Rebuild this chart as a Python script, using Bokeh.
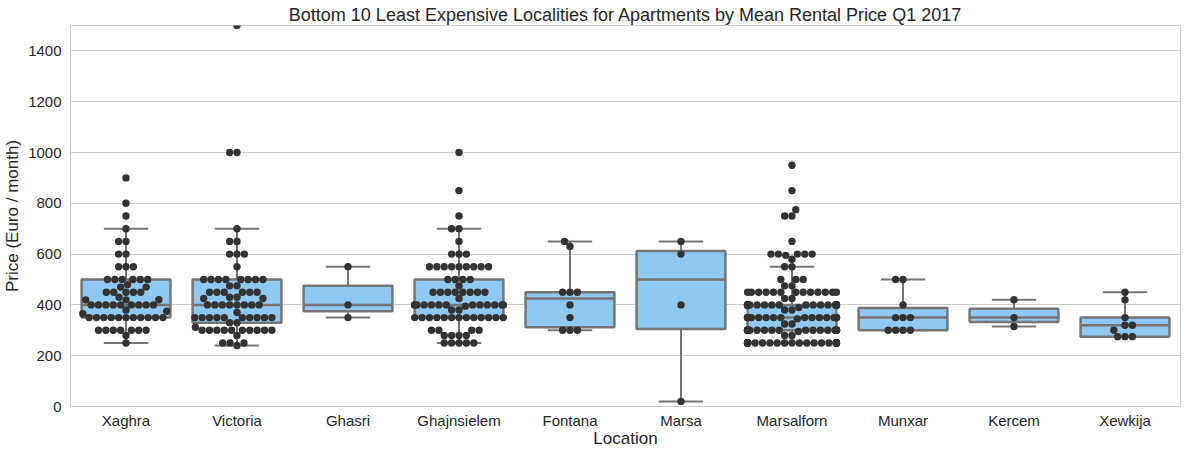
import numpy as np
from bokeh.plotting import figure
from bokeh.models import FixedTicker, Range1d, FactorRange
from bokeh.embed import file_html
from bokeh.resources import INLINE

# ---------------- data ----------------
locations = ["Xaghra", "Victoria", "Ghasri", "Ghajnsielem", "Fontana",
             "Marsa", "Marsalforn", "Munxar", "Kercem", "Xewkija"]

xaghra = [900, 800, 750, 700] + [650] * 2 + [600] * 2 + [550] * 3 + [500] * 6 + [480] + [470] * 2 + \
         [450] * 5 + [430] + [420] * 3 + [400] * 9 + [380, 375, 365] + [350] * 11 + [300] * 7 + [280, 250]
victoria = [1500] + [1000] * 2 + [700] + [650] * 2 + [600] * 3 + [550] + [500] * 8 + [475] * 2 + \
           [450] * 6 + [430] * 2 + [425] * 2 + [400] * 8 + [370] + [350] * 10 + [330] * 2 + [312] + \
           [300] * 10 + [280] + [250] * 3 + [240]
ghasri = [550, 400, 350]
ghajnsielem = [1000, 850, 750] + [700] * 2 + [650] + [600] * 3 + [550] * 9 + [500] * 4 + [475] + \
              [450] * 8 + [425] + [400] * 13 + [395] + [380] * 2 + [350] * 13 + [300] * 4 + [280] * 4 + [250] * 5
fontana = [650, 630, 450, 450, 450, 400, 350, 300, 300, 300]
marsa = [650, 600, 400, 20]
marsalforn = [950, 850, 775] + [750] * 2 + [650] + [600] * 5 + [595, 580] + [550] * 2 + [500] * 3 + \
             [475] * 2 + [450] * 13 + [425] * 2 + [400] * 27 + [390] + [380] * 2 + [350] * 22 + [345] + \
             [325] * 2 + [300] * 26 + [295] + [280] * 2 + [250] * 26
munxar = [500, 500, 400, 350, 350, 350, 300, 300, 300, 300]
kercem = [420, 350, 315]
xewkija = [450, 420, 350, 320, 320, 300, 275, 275, 275]

groups = [xaghra, victoria, ghasri, ghajnsielem, fontana, marsa, marsalforn, munxar, kercem, xewkija]

y_ticks = [0, 200, 400, 600, 800, 1000, 1200, 1400]
Y_MAX = 1500

# ---------------- layout ----------------
W, H = 1190, 453
BL, BR, BT, BB = 67, 10, 25, 47
FW = W - BL - BR
FH = H - BT - BB
CAT_PX = FW / len(locations)
DOT = 7.4

BOX_FILL = "#8fc8f0"
LINE = "#757575"
DOTC = "#333333"
FONT = "Liberation Sans"
TXT = "#262626"


def beeswarm(vals):
    ys = np.asarray(vals, float) * FH / Y_MAX
    order = np.argsort(ys, kind="stable")
    placed = []
    xs = np.zeros(len(ys))
    for i in order:
        y = ys[i]
        neigh = [(qx, qy) for qx, qy in placed if abs(qy - y) < DOT]
        cands = [0.0]
        for qx, qy in neigh:
            dx = np.sqrt(max(DOT ** 2 - (y - qy) ** 2, 0.0))
            cands += [qx + dx, qx - dx]
        cands = sorted(cands, key=lambda c: (round(abs(c), 6), c))
        chosen = cands[-1]
        for c in cands:
            if all((c - qx) ** 2 + (y - qy) ** 2 >= DOT ** 2 - 1e-6 for qx, qy in neigh):
                chosen = c
                break
        placed.append((chosen, y))
        xs[i] = chosen
    gutter = 0.4 * CAT_PX
    xs = np.clip(xs, -gutter, gutter)
    return xs / CAT_PX


p = figure(width=W, height=H, output_backend="svg", toolbar_location=None,
           x_range=FactorRange(*locations, range_padding=0), y_range=Range1d(0, Y_MAX),
           min_border_left=BL, min_border_right=BR, min_border_top=BT, min_border_bottom=BB,
           title="Bottom 10 Least Expensive Localities for Apartments by Mean Rental Price Q1 2017")
p.title.align = "center"
p.title.text_font = FONT
p.title.text_font_size = "18px"
p.title.text_font_style = "normal"
p.title.text_color = TXT
p.title.standoff = 2
p.title.offset = 0

p.background_fill_color = "white"
p.border_fill_color = "white"
p.outline_line_color = "#cccccc"
p.outline_line_width = 1

p.xgrid.grid_line_color = None
p.ygrid.ticker = FixedTicker(ticks=y_ticks)
p.ygrid.grid_line_color = "#cccccc"
p.ygrid.grid_line_width = 1

p.yaxis.ticker = FixedTicker(ticks=y_ticks)
for ax in (p.xaxis[0], p.yaxis[0]):
    ax.axis_line_color = None
    ax.major_tick_line_color = None
    ax.minor_tick_line_color = None
    ax.major_tick_out = 0
    ax.major_tick_in = 0
    ax.major_label_text_font = FONT
    ax.major_label_text_font_size = "15px"
    ax.major_label_text_color = TXT
    ax.axis_label_text_font = FONT
    ax.axis_label_text_font_size = "17px"
    ax.axis_label_text_font_style = "normal"
    ax.axis_label_text_color = TXT
p.yaxis.major_label_standoff = 9
p.xaxis.major_label_standoff = 5
p.xaxis.axis_label = "Location"
p.xaxis.axis_label_standoff = -3
p.yaxis.axis_label = "Price (Euro / month)"
p.yaxis.axis_label_standoff = 3

xc = np.arange(len(locations)) + 0.5
q1s, meds, q3s, lows, highs = [], [], [], [], []
for g in groups:
    a = np.asarray(g, float)
    q1, med, q3 = np.percentile(a, [25, 50, 75])
    iqr = q3 - q1
    lo = a[a >= q1 - 1.5 * iqr].min()
    hi = a[a <= q3 + 1.5 * iqr].max()
    q1s.append(q1); meds.append(med); q3s.append(q3); lows.append(lo); highs.append(hi)

# whiskers
p.segment(x0=xc, y0=q3s, x1=xc, y1=highs, line_color=LINE, line_width=2)
p.segment(x0=xc, y0=q1s, x1=xc, y1=lows, line_color=LINE, line_width=2)
p.segment(x0=xc - 0.2, y0=highs, x1=xc + 0.2, y1=highs, line_color=LINE, line_width=2)
p.segment(x0=xc - 0.2, y0=lows, x1=xc + 0.2, y1=lows, line_color=LINE, line_width=2)
# boxes
p.quad(left=xc - 0.4, right=xc + 0.4, bottom=q1s, top=q3s,
       fill_color=BOX_FILL, line_color=LINE, line_width=2.5)
p.segment(x0=xc - 0.4, y0=meds, x1=xc + 0.4, y1=meds, line_color=LINE, line_width=2.5)

# swarm points
px, py = [], []
for i, g in enumerate(groups):
    off = beeswarm(g)
    px.extend(list(xc[i] + off))
    py.extend(g)
p.scatter(x=px, y=py, size=DOT, fill_color=DOTC, line_color=None)

open("out.html", "w").write(file_html(p, INLINE))
